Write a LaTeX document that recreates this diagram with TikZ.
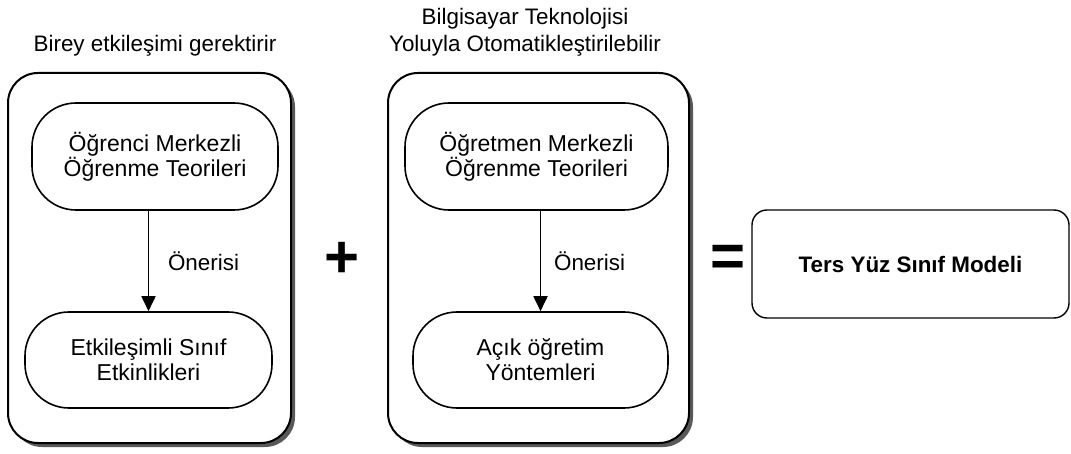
\documentclass[tikz,border=0pt]{standalone}
\usepackage{fontspec}
\setmainfont{Liberation Sans}
\usetikzlibrary{arrows.meta,shadows}

\tikzset{
  kutu/.style={draw, line width=1pt, rounded corners=15pt, fill=white,
    drop shadow={shadow xshift=2pt, shadow yshift=-2pt, fill=black!65, opacity=1}},
  teori/.style={draw, line width=0.8pt, rounded corners=22pt, align=center,
    font=\fontsize{11.5}{12.5}\selectfont},
  ok/.style={-{Triangle[length=7.5pt,width=7pt]}, line width=0.9pt},
  baslik/.style={align=center, font=\fontsize{11.2}{13.5}\selectfont},
}

\begin{document}
\begin{tikzpicture}[x=0.5pt, y=-0.5pt]
		\useasboundingbox (0,0) rectangle (1071,454);
		% sol kutu
		\node[kutu, minimum width=141.5pt, minimum height=185pt] (sol) at (149.5,258) {};
		\node[baslik] (solbaslik) at (155,46) {Birey etkileşimi gerektirir};
		\node[teori, minimum width=123pt, minimum height=53.5pt] (ogrenci) at (155,156.5) {Öğrenci Merkezli\\Öğrenme Teorileri};
		\node[teori, minimum width=123.5pt, minimum height=48pt] (etkin) at (148.5,360) {Etkileşimli Sınıf\\Etkinlikleri};
		\draw[ok] (ogrenci.south -| etkin.north) -- node[right, font=\fontsize{11.2}{12}\selectfont, xshift=6pt] (soloneri) {Önerisi} (etkin.north);
		% orta kutu
		\node[kutu, minimum width=150.5pt, minimum height=185pt] (orta) at (538.5,258) {};
		\node[baslik] (ortabaslik) at (525,32.5) {Bilgisayar Teknolojisi\\Yoluyla Otomatikleştirilebilir};
		\node[teori, minimum width=131.5pt, minimum height=53.5pt] (ogretmen) at (536.5,156.5) {Öğretmen Merkezli\\Öğrenme Teorileri};
		\node[teori, minimum width=127.5pt, minimum height=48pt] (acik) at (540.5,360) {Açık öğretim\\Yöntemleri};
		\draw[ok] (ogretmen.south -| acik.north) -- node[right, font=\fontsize{11.2}{12}\selectfont, xshift=3pt] (ortaoneri) {Önerisi} (acik.north);
		% isaretler
		\node[font=\fontsize{30}{30}\selectfont\bfseries] (arti) at (342,260) {+};
		\node[font=\fontsize{30}{30}\selectfont\bfseries] (esit) at (728,261) {=};
		% sonuc
		\node[draw, line width=0.7pt, rounded corners=7.5pt, minimum width=158.5pt, minimum height=54pt,
			font=\fontsize{11.2}{12}\selectfont\bfseries] (model) at (910.5,264) {Ters Yüz Sınıf Modeli};
	\end{tikzpicture}
\end{document}
